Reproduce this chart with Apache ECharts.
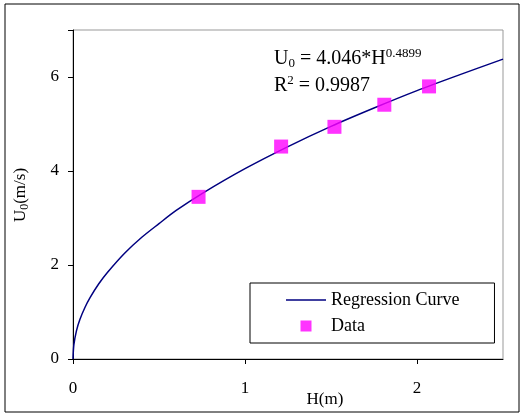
<!DOCTYPE html>
<html>
<head>
<meta charset="utf-8">
<script src="https://cdn.jsdelivr.net/npm/echarts@6/dist/echarts.min.js"></script>
<style>
  html, body { margin: 0; padding: 0; background: #fff; }
  #chart { width: 524px; height: 416px; }
</style>
</head>
<body>
<div id="chart"></div>
<script>
// regression curve
var curveH = [0, 0.005, 0.02, 0.04, 0.07, 0.1, 0.15, 0.2, 0.3, 0.4, 0.5, 0.6, 0.75, 1, 1.25, 1.5, 1.75, 2, 2.25, 2.5];
var curveU = [0, 0.30, 0.60, 0.84, 1.10, 1.31, 1.60, 1.84, 2.25, 2.59, 2.88, 3.16, 3.52, 4.05, 4.52, 4.95, 5.34, 5.71, 6.05, 6.38];
// measured data
var dataH = [0.73, 1.21, 1.52, 1.81, 2.07];
var dataU = [3.45, 4.52, 4.94, 5.41, 5.80];
var xTicks = [0, 1, 2];
var yTicks = [0, 2, 4, 6];

var font = "'Liberation Serif', 'Times New Roman', serif";

var chart = echarts.init(document.getElementById("chart"));
chart.setOption({
  animation: false,
  textStyle: { fontFamily: font },
  grid: {
    left: 73,
    top: 30,
    right: 21,
    bottom: 57,
    show: true,
    borderColor: "#999",
    borderWidth: 1,
  },
  xAxis: {
    type: "value",
    min: 0,
    max: 2.5,
    interval: 1,
    axisLine: { lineStyle: { color: "#000", width: 1 } },
    axisTick: { show: true, length: 5, lineStyle: { color: "#000" } },
    splitLine: { show: false },
    axisLabel: {
      color: "#000",
      fontSize: 17,
      fontFamily: font,
      margin: 21,
      showMaxLabel: false,
      formatter: function (v) {
        return xTicks.indexOf(v) >= 0 ? String(v) : "";
      },
    },
  },
  yAxis: {
    type: "value",
    min: 0,
    max: 7,
    interval: 2,
    axisLine: { show: true, lineStyle: { color: "#000", width: 1 } },
    axisTick: { show: true, length: 5, lineStyle: { color: "#000" } },
    splitLine: { show: false },
    axisLabel: {
      color: "#000",
      fontSize: 17,
      fontFamily: font,
      margin: 14,
      formatter: function (v) {
        return yTicks.indexOf(v) >= 0 ? String(v) : "";
      },
    },
  },
  legend: {
    orient: "vertical",
    left: 250,
    top: 283,
    borderColor: "#000",
    borderWidth: 1,
    padding: [8, 35, 8, 36],
    itemWidth: 40,
    itemHeight: 11,
    itemGap: 8,
    textStyle: { color: "#000", fontSize: 18, fontFamily: font },
    data: [
      { name: "Regression Curve", icon: "path://M0,0h40v1.5h-40z" },
      { name: "Data", icon: "path://M0,0h10v10h-10z" },
    ],
  },
  graphic: [
    {
      type: "rect",
      shape: { x: 5, y: 4, width: 514, height: 408 },
      style: { fill: "none", stroke: "#000", lineWidth: 1 },
      silent: true,
    },
    {
      type: "text",
      left: 274,
      top: 47,
      style: {
        text: "{n|U}{s|0}{n| = 4.046*H}{p|0.4899}",
        rich: {
          n: { fontSize: 20, fontFamily: font, fill: "#000", verticalAlign: "bottom" },
          s: { fontSize: 13, fontFamily: font, fill: "#000", verticalAlign: "bottom", padding: [0, 0, -1, 0] },
          p: { fontSize: 13, fontFamily: font, fill: "#000", verticalAlign: "top", padding: [0, 0, 9, 0] },
        },
      },
    },
    {
      type: "text",
      left: 274,
      top: 74,
      style: {
        text: "{n|R}{p|2}{n| = 0.9987}",
        rich: {
          n: { fontSize: 20, fontFamily: font, fill: "#000", verticalAlign: "bottom" },
          p: { fontSize: 13, fontFamily: font, fill: "#000", verticalAlign: "top", padding: [0, 0, 9, 0] },
        },
      },
    },
    {
      type: "text",
      x: 325,
      y: 400,
      style: {
        text: "H(m)",
        fontSize: 17,
        fontFamily: font,
        fill: "#000",
        align: "center",
        verticalAlign: "middle",
      },
    },
    {
      type: "text",
      x: 21,
      y: 195,
      rotation: Math.PI / 2,
      style: {
        text: "{n|U}{s|0}{n|(m/s)}",
        align: "center",
        verticalAlign: "middle",
        rich: {
          n: { fontSize: 17, fontFamily: font, fill: "#000" },
          s: { fontSize: 12, fontFamily: font, fill: "#000", padding: [7, 0, 0, 0] },
        },
      },
    },
  ],
  series: [
    {
      name: "Regression Curve",
      type: "line",
      data: curveH.map(function (h, i) { return [h, curveU[i]]; }),
      symbol: "none",
      smooth: 0.3,
      lineStyle: { color: "#000080", width: 1.5 },
      itemStyle: { color: "#000080" },
      z: 2,
    },
    {
      name: "Data",
      type: "scatter",
      data: dataH.map(function (h, i) { return [h, dataU[i]]; }),
      symbol: "rect",
      symbolSize: 14,
      itemStyle: { color: "#ff00ff" },
      z: 3,
    },
  ],
});
</script>
</body>
</html>
